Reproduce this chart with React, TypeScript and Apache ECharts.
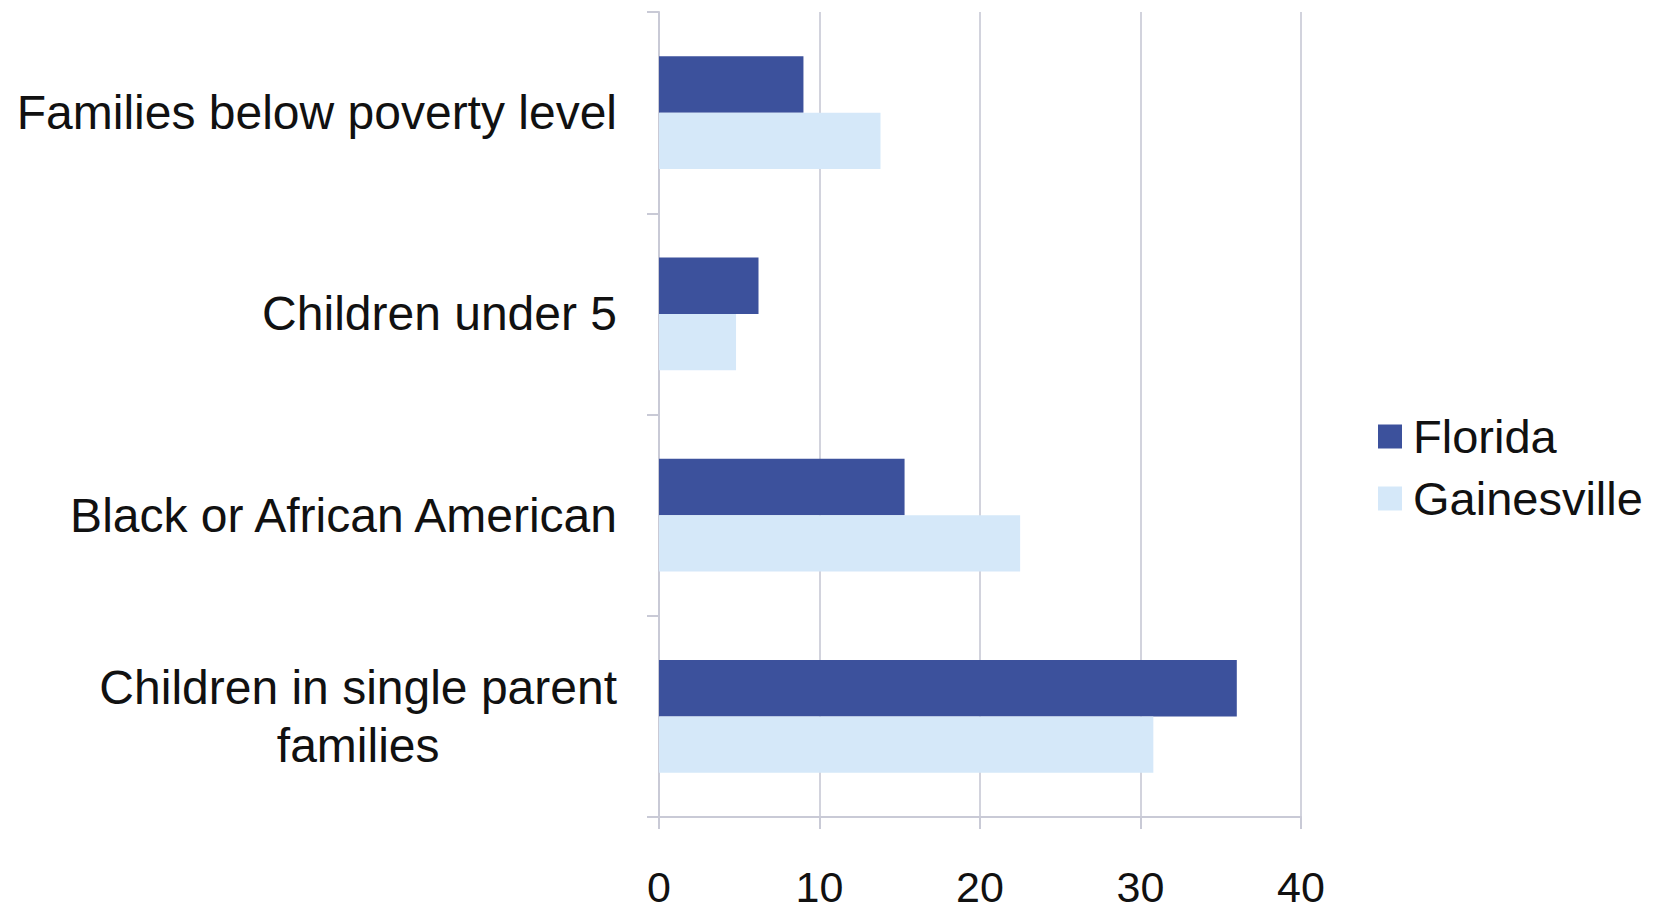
import React, { useEffect, useRef } from "react";
import * as echarts from "echarts";

const categories = [
  "Families below poverty level",
  "Children under 5",
  "Black or African American",
  "Children in single parent families",
];
const florida = [9.0, 6.2, 15.3, 36.0];
const gainesville = [13.8, 4.8, 22.5, 30.8];
const xTicks = [0, 10, 20, 30, 40];
const seriesNames = ["Florida", "Gainesville"];

const FONT = "'Liberation Sans', Arial, sans-serif";

export default function App() {
  const ref = useRef<HTMLDivElement>(null);
  useEffect(() => {
    document.body.style.margin = "0";
    const chart = echarts.init(ref.current!, null, { renderer: "svg" });
    chart.setOption({
      animation: false,
      backgroundColor: "#ffffff",
      grid: { left: 659, right: 365, top: 12, bottom: 97, containLabel: false },
      legend: {
        orient: "vertical",
        left: 1373,
        top: 408,
        itemWidth: 24,
        itemHeight: 24,
        itemGap: 15,
        icon: "rect",
        data: seriesNames,
        textStyle: {
          fontSize: 47,
          fontFamily: FONT,
          color: "#111111",
          padding: [0, 0, 0, 6],
        },
      },
      xAxis: {
        type: "value",
        min: xTicks[0],
        max: xTicks[xTicks.length - 1],
        interval: 10,
        axisLine: { show: true, lineStyle: { color: "#c9cad6", width: 2 } },
        axisTick: { show: true, length: 12, lineStyle: { color: "#c9cad6", width: 2 } },
        splitLine: { show: true, lineStyle: { color: "#d2d3dd", width: 2 } },
        axisLabel: {
          margin: 53,
          fontSize: 43,
          lineHeight: 34,
          fontFamily: FONT,
          color: "#111111",
        },
      },
      yAxis: {
        type: "category",
        inverse: true,
        data: categories,
        axisLine: { show: true, lineStyle: { color: "#c9cad6", width: 2 } },
        axisTick: { show: true, length: 12, lineStyle: { color: "#c9cad6", width: 2 } },
        axisLabel: {
          margin: 42,
          fontSize: 48,
          fontFamily: FONT,
          color: "#111111",
          lineHeight: 58,
          formatter: (v: string) => {
            if (v.length > 30) {
              const i = v.lastIndexOf(" ");
              return "{a|" + v.slice(0, i) + "}\n{b|" + v.slice(i + 1) + "}";
            }
            return "{a|" + v + "}";
          },
          rich: {
            a: { fontSize: 48, fontFamily: FONT, color: "#111111", lineHeight: 58 },
            b: {
              fontSize: 48,
              fontFamily: FONT,
              color: "#111111",
              lineHeight: 58,
              width: 516,
              align: "center",
            },
          },
        },
      },
      series: [
        {
          name: seriesNames[0],
          type: "bar",
          data: florida,
          barGap: "0%",
          barCategoryGap: "44%",
          itemStyle: { color: "#3c519c" },
        },
        {
          name: seriesNames[1],
          type: "bar",
          data: gainesville,
          barGap: "0%",
          barCategoryGap: "44%",
          itemStyle: { color: "#d5e8f9" },
        },
      ],
    });
    return () => chart.dispose();
  }, []);
  return <div ref={ref} style={{ width: 1666, height: 914 }} />;
}
